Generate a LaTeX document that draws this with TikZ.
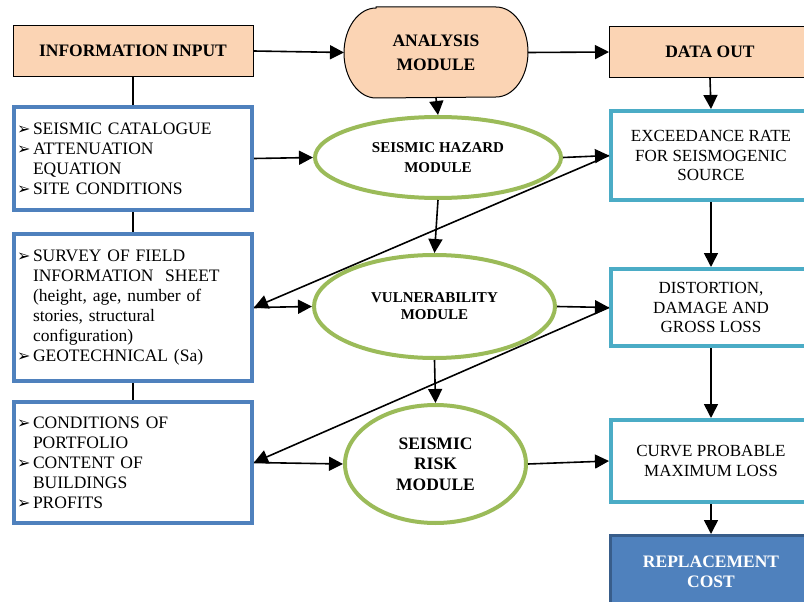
\documentclass[tikz,border=0pt]{standalone}
\usepackage{fontspec}
\setmainfont{Liberation Serif}
\newfontfamily\dejavu{DejaVu Sans}
\usetikzlibrary{shapes.geometric,arrows.meta,backgrounds}
\definecolor{peach}{HTML}{FBD4B4}
\definecolor{bluebd}{HTML}{4F81BD}
\definecolor{greenbd}{HTML}{9BBB59}
\definecolor{tealbd}{HTML}{4BACC6}
\definecolor{darkbd}{HTML}{385D8A}
\newcommand{\bul}{\makebox[16pt][l]{\raisebox{-0.5pt}{\dejavu\fontsize{16}{16}\selectfont ➢}}}
\newcommand{\ind}{\hspace*{16pt}}
\begin{document}
\begin{tikzpicture}[x=1pt,y=-1pt,
 hdr/.style={draw=black, line width=1pt, fill=peach, inner sep=0pt, font=\bfseries\fontsize{17.5}{24}\selectfont, align=center},
 inbox/.style={draw=bluebd, line width=4pt, fill=white, minimum width=238pt, inner xsep=3pt, inner ysep=0pt, text width=232pt, align=left, font=\fontsize{17.5}{20}\selectfont},
 outbox/.style={draw=tealbd, line width=4pt, fill=white, minimum width=200pt, inner sep=0pt, align=center, font=\fontsize{17}{19.5}\selectfont},
 module/.style={ellipse, draw=greenbd, line width=4pt, fill=white, inner sep=0pt, align=center},
 arr/.style={line width=1.6pt, -{Triangle[length=14pt,width=14pt]}},
 lnk/.style={line width=1.6pt}]

\useasboundingbox (0,0) rectangle (804,602);

% header row
\node[hdr, minimum width=240pt, minimum height=51pt] (info) at (133,51) {INFORMATION INPUT};
\node[inner sep=0pt, outer sep=0.5pt, minimum width=183pt, minimum height=90pt, font=\bfseries\fontsize{17.5}{24}\selectfont, align=center] (an) at (436,52.5) {ANALYSIS\\MODULE};
\begin{scope}[on background layer]
\draw[line width=1pt, fill=peach] ([xshift=32pt]an.north west) -- ([xshift=-32pt]an.north east)
  arc[start angle=90, end angle=-90, x radius=32pt, y radius=45pt]
  -- ([xshift=32pt]an.south west)
  arc[start angle=270, end angle=90, x radius=32pt, y radius=45pt] -- cycle;
\end{scope}
\node[hdr, minimum width=201pt, minimum height=51pt] (dout) at (710,52) {DATA OUT};

% left input boxes
\node[inbox, minimum height=103pt] (b1) at (133,158.5) {\bul SEISMIC CATALOGUE\\ \bul ATTENUATION\\ \ind EQUATION\\ \bul SITE CONDITIONS};
\node[inbox, minimum height=147pt] (b2) at (133,307.5) {\bul SURVEY OF FIELD\\ \ind INFORMATION\ \ SHEET\\ \ind (height, age, number of\\ \ind stories, structural\\ \ind configuration)\\ \bul GEOTECHNICAL (Sa)};
\node[inbox, minimum height=121pt] (b3) at (133,462.5) {\bul CONDITIONS OF\\ \ind PORTFOLIO\\ \bul CONTENT OF\\ \ind BUILDINGS\\ \bul PROFITS};

% modules
\node[module, minimum width=246pt, minimum height=81pt, font=\bfseries\fontsize{15}{20}\selectfont] (haz) at (438,157.5) {SEISMIC HAZARD\\MODULE};
\node[module, minimum width=241pt, minimum height=103pt, font=\bfseries\fontsize{15}{17}\selectfont] (vul) at (434.5,306.5) {VULNERABILITY\\MODULE};
\node[module, minimum width=181pt, minimum height=118pt, font=\bfseries\fontsize{17.5}{20.5}\selectfont] (risk) at (435.5,464) {SEISMIC\\RISK\\MODULE};

% output boxes
\node[outbox, minimum height=89pt] (exc) at (711,155.5) {EXCEEDANCE RATE\\FOR SEISMOGENIC\\SOURCE};
\node[outbox, minimum height=77pt] (dis) at (711,307.5) {DISTORTION,\\DAMAGE AND\\GROSS LOSS};
\node[outbox, minimum height=82pt] (cur) at (711,461) {CURVE PROBABLE\\MAXIMUM LOSS};
\node[draw=darkbd, line width=3pt, fill=bluebd, text=white, minimum width=201pt, minimum height=73pt, inner sep=0pt, align=center, font=\bfseries\fontsize{17.5}{19.5}\selectfont] (rep) at (711,572) {REPLACEMENT\\COST};

% plain links
\draw[lnk] (info.south) -- (b1.north);
\draw[lnk] (b1.south) -- (b2.north);
\draw[lnk] (b2.south) -- (b3.north);

% arrows
\draw[arr] (info.east) -- (an.west);
\draw[arr] (an.east) -- (dout.west);
\draw[arr] (an.south) -- (haz.north);
\draw[arr] (dout.south) -- (exc.north);
\draw[arr] (b1.east) -- (haz.west);
\draw[arr] (haz.east) -- (exc.west);
\draw[arr] (exc.west) -- (b2.east);
\draw[arr] (b2.east) -- (vul.west);
\draw[arr] (haz.south) -- (vul.north);
\draw[arr] (vul.east) -- (dis.west);
\draw[arr] (dis.west) -- (b3.east);
\draw[arr] (b3.east) -- (risk.west);
\draw[arr] (vul.south) -- (risk.north);
\draw[arr] (risk.east) -- (cur.west);
\draw[arr] (exc.south) -- (dis.north);
\draw[arr] (dis.south) -- (cur.north);
\draw[arr] (cur.south) -- (rep.north);
\end{tikzpicture}
\end{document}
